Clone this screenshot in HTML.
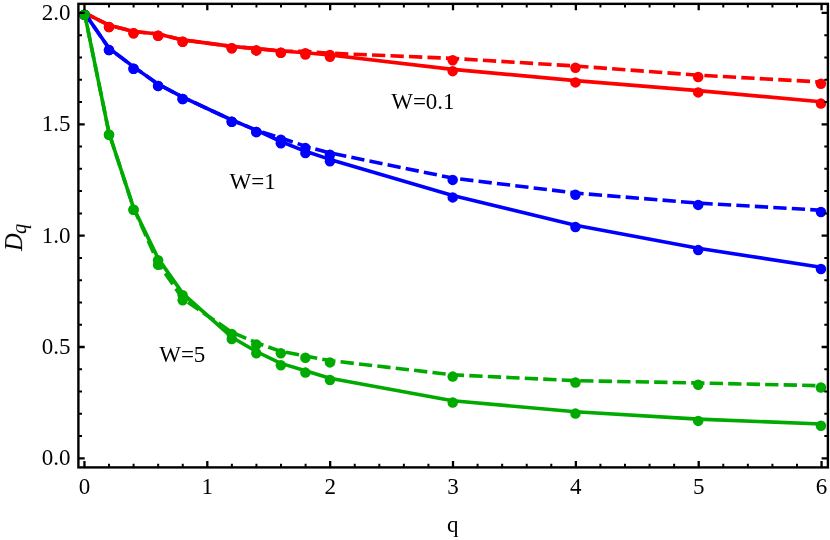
<!DOCTYPE html>
<html><head><meta charset="utf-8"><title>Dq vs q</title>
<style>
html,body{margin:0;padding:0;background:#fff;}
body{width:830px;height:540px;overflow:hidden;font-family:"Liberation Serif",serif;}
svg{display:block;}
</style></head>
<body>
<svg width="830" height="540" viewBox="0 0 830 540">
<rect width="830" height="540" fill="#fff"/>
<g id="curves">
<polyline points="84.45,12.90 109.00,25.20 133.55,31.50 158.10,34.00 182.65,39.90 231.75,46.40 256.30,48.60 280.85,51.00 305.40,52.80 329.95,55.00 452.70,69.35 575.45,80.60 698.20,90.60 820.95,101.80" fill="none" stroke="#ff0000" stroke-width="3.6" stroke-linejoin="round"/>
<circle cx="84.45" cy="14.70" r="5.25" fill="#ff0000"/>
<circle cx="109.00" cy="27.00" r="5.25" fill="#ff0000"/>
<circle cx="133.55" cy="33.30" r="5.25" fill="#ff0000"/>
<circle cx="158.10" cy="35.80" r="5.25" fill="#ff0000"/>
<circle cx="182.65" cy="41.70" r="5.25" fill="#ff0000"/>
<circle cx="231.75" cy="48.20" r="5.25" fill="#ff0000"/>
<circle cx="256.30" cy="50.40" r="5.25" fill="#ff0000"/>
<circle cx="280.85" cy="52.80" r="5.25" fill="#ff0000"/>
<circle cx="305.40" cy="54.60" r="5.25" fill="#ff0000"/>
<circle cx="329.95" cy="56.80" r="5.25" fill="#ff0000"/>
<circle cx="452.70" cy="71.15" r="5.25" fill="#ff0000"/>
<circle cx="575.45" cy="82.40" r="5.25" fill="#ff0000"/>
<circle cx="698.20" cy="92.40" r="5.25" fill="#ff0000"/>
<circle cx="820.95" cy="103.60" r="5.25" fill="#ff0000"/>

<polyline points="84.45,12.90 109.00,25.20 133.55,31.50 158.10,34.00 182.65,39.90 231.75,46.40 256.30,48.60 280.85,51.00 305.40,51.40 329.95,53.20 452.70,58.40 575.45,66.00 698.20,75.20 820.95,82.00" fill="none" stroke="#ff0000" stroke-width="3.6" stroke-linejoin="round" stroke-dasharray="13.3 5.2" stroke-dashoffset="3.15"/>
<circle cx="84.45" cy="14.70" r="5.25" fill="#ff0000"/>
<circle cx="109.00" cy="27.00" r="5.25" fill="#ff0000"/>
<circle cx="133.55" cy="33.30" r="5.25" fill="#ff0000"/>
<circle cx="158.10" cy="35.80" r="5.25" fill="#ff0000"/>
<circle cx="182.65" cy="41.70" r="5.25" fill="#ff0000"/>
<circle cx="231.75" cy="48.20" r="5.25" fill="#ff0000"/>
<circle cx="256.30" cy="50.40" r="5.25" fill="#ff0000"/>
<circle cx="280.85" cy="52.80" r="5.25" fill="#ff0000"/>
<circle cx="305.40" cy="53.20" r="5.25" fill="#ff0000"/>
<circle cx="329.95" cy="55.00" r="5.25" fill="#ff0000"/>
<circle cx="452.70" cy="60.20" r="5.25" fill="#ff0000"/>
<circle cx="575.45" cy="67.80" r="5.25" fill="#ff0000"/>
<circle cx="698.20" cy="77.00" r="5.25" fill="#ff0000"/>
<circle cx="820.95" cy="83.80" r="5.25" fill="#ff0000"/>

<polyline points="84.45,12.90 109.00,48.30 133.55,66.90 158.10,84.10 182.65,97.15 231.75,120.00 256.30,130.20 280.85,141.50 305.40,151.30 329.95,159.40 452.70,195.60 575.45,225.20 698.20,248.30 820.95,267.20" fill="none" stroke="#0000ff" stroke-width="3.6" stroke-linejoin="round"/>
<circle cx="84.45" cy="14.70" r="5.25" fill="#0000ff"/>
<circle cx="109.00" cy="50.10" r="5.25" fill="#0000ff"/>
<circle cx="133.55" cy="68.70" r="5.25" fill="#0000ff"/>
<circle cx="158.10" cy="85.90" r="5.25" fill="#0000ff"/>
<circle cx="182.65" cy="98.95" r="5.25" fill="#0000ff"/>
<circle cx="231.75" cy="121.80" r="5.25" fill="#0000ff"/>
<circle cx="256.30" cy="132.00" r="5.25" fill="#0000ff"/>
<circle cx="280.85" cy="143.30" r="5.25" fill="#0000ff"/>
<circle cx="305.40" cy="153.10" r="5.25" fill="#0000ff"/>
<circle cx="329.95" cy="161.20" r="5.25" fill="#0000ff"/>
<circle cx="452.70" cy="197.40" r="5.25" fill="#0000ff"/>
<circle cx="575.45" cy="227.00" r="5.25" fill="#0000ff"/>
<circle cx="698.20" cy="250.10" r="5.25" fill="#0000ff"/>
<circle cx="820.95" cy="269.00" r="5.25" fill="#0000ff"/>

<polyline points="84.45,12.90 109.00,48.30 133.55,66.90 158.10,84.10 182.65,97.15 231.75,120.00 256.30,130.20 280.85,137.90 305.40,146.30 329.95,152.90 452.70,178.10 575.45,193.00 698.20,203.10 820.95,210.20" fill="none" stroke="#0000ff" stroke-width="3.6" stroke-linejoin="round" stroke-dasharray="13.3 5.2" stroke-dashoffset="3.15"/>
<circle cx="84.45" cy="14.70" r="5.25" fill="#0000ff"/>
<circle cx="109.00" cy="50.10" r="5.25" fill="#0000ff"/>
<circle cx="133.55" cy="68.70" r="5.25" fill="#0000ff"/>
<circle cx="158.10" cy="85.90" r="5.25" fill="#0000ff"/>
<circle cx="182.65" cy="98.95" r="5.25" fill="#0000ff"/>
<circle cx="231.75" cy="121.80" r="5.25" fill="#0000ff"/>
<circle cx="256.30" cy="132.00" r="5.25" fill="#0000ff"/>
<circle cx="280.85" cy="139.70" r="5.25" fill="#0000ff"/>
<circle cx="305.40" cy="148.10" r="5.25" fill="#0000ff"/>
<circle cx="329.95" cy="154.70" r="5.25" fill="#0000ff"/>
<circle cx="452.70" cy="179.90" r="5.25" fill="#0000ff"/>
<circle cx="575.45" cy="194.80" r="5.25" fill="#0000ff"/>
<circle cx="698.20" cy="204.90" r="5.25" fill="#0000ff"/>
<circle cx="820.95" cy="212.00" r="5.25" fill="#0000ff"/>

<polyline points="84.45,12.90 109.00,133.00 133.55,207.90 158.10,258.35 182.65,293.40 231.75,337.20 256.30,351.50 280.85,363.40 305.40,370.80 329.95,378.20 452.70,400.70 575.45,411.80 698.20,419.10 820.95,424.00" fill="none" stroke="#00aa00" stroke-width="3.6" stroke-linejoin="round"/>
<circle cx="84.45" cy="14.70" r="5.25" fill="#00aa00"/>
<circle cx="109.00" cy="134.80" r="5.25" fill="#00aa00"/>
<circle cx="133.55" cy="209.70" r="5.25" fill="#00aa00"/>
<circle cx="158.10" cy="260.15" r="5.25" fill="#00aa00"/>
<circle cx="182.65" cy="295.20" r="5.25" fill="#00aa00"/>
<circle cx="231.75" cy="339.00" r="5.25" fill="#00aa00"/>
<circle cx="256.30" cy="353.30" r="5.25" fill="#00aa00"/>
<circle cx="280.85" cy="365.20" r="5.25" fill="#00aa00"/>
<circle cx="305.40" cy="372.60" r="5.25" fill="#00aa00"/>
<circle cx="329.95" cy="380.00" r="5.25" fill="#00aa00"/>
<circle cx="452.70" cy="402.50" r="5.25" fill="#00aa00"/>
<circle cx="575.45" cy="413.60" r="5.25" fill="#00aa00"/>
<circle cx="698.20" cy="420.90" r="5.25" fill="#00aa00"/>
<circle cx="820.95" cy="425.80" r="5.25" fill="#00aa00"/>

<polyline points="84.45,12.90 109.00,133.00 133.55,207.90 158.10,262.95 182.65,298.55 231.75,332.20 256.30,342.70 280.85,351.40 305.40,356.00 329.95,360.60 452.70,374.80 575.45,380.65 698.20,383.00 820.95,385.70" fill="none" stroke="#00aa00" stroke-width="3.6" stroke-linejoin="round" stroke-dasharray="13.3 5.2" stroke-dashoffset="3.15"/>
<circle cx="84.45" cy="14.70" r="5.25" fill="#00aa00"/>
<circle cx="109.00" cy="134.80" r="5.25" fill="#00aa00"/>
<circle cx="133.55" cy="209.70" r="5.25" fill="#00aa00"/>
<circle cx="158.10" cy="264.75" r="5.25" fill="#00aa00"/>
<circle cx="182.65" cy="300.35" r="5.25" fill="#00aa00"/>
<circle cx="231.75" cy="334.00" r="5.25" fill="#00aa00"/>
<circle cx="256.30" cy="344.50" r="5.25" fill="#00aa00"/>
<circle cx="280.85" cy="353.20" r="5.25" fill="#00aa00"/>
<circle cx="305.40" cy="357.80" r="5.25" fill="#00aa00"/>
<circle cx="329.95" cy="362.40" r="5.25" fill="#00aa00"/>
<circle cx="452.70" cy="376.60" r="5.25" fill="#00aa00"/>
<circle cx="575.45" cy="382.45" r="5.25" fill="#00aa00"/>
<circle cx="698.20" cy="384.80" r="5.25" fill="#00aa00"/>
<circle cx="820.95" cy="387.50" r="5.25" fill="#00aa00"/>

</g>
<g id="frame" stroke="#000" fill="none">
<rect x="78.4" y="3.85" width="749.5" height="463.54999999999995" stroke-width="2.4"/>
<path d="M84.46 467.4V461.09999999999997M84.46 3.85V10.15M207.31 467.4V461.09999999999997M207.31 3.85V10.15M330.16 467.4V461.09999999999997M330.16 3.85V10.15M453.01 467.4V461.09999999999997M453.01 3.85V10.15M575.86 467.4V461.09999999999997M575.86 3.85V10.15M698.71 467.4V461.09999999999997M698.71 3.85V10.15M821.56 467.4V461.09999999999997M821.56 3.85V10.15M78.4 458.35H84.7M827.9 458.35H821.6M78.4 347.00H84.7M827.9 347.00H821.6M78.4 235.65H84.7M827.9 235.65H821.6M78.4 124.30H84.7M827.9 124.30H821.6M78.4 12.95H84.7M827.9 12.95H821.6" stroke-width="2.3"/>
<path d="M109.03 467.4V463.79999999999995M109.03 3.85V7.45M133.60 467.4V463.79999999999995M133.60 3.85V7.45M158.17 467.4V463.79999999999995M158.17 3.85V7.45M182.74 467.4V463.79999999999995M182.74 3.85V7.45M231.88 467.4V463.79999999999995M231.88 3.85V7.45M256.45 467.4V463.79999999999995M256.45 3.85V7.45M281.02 467.4V463.79999999999995M281.02 3.85V7.45M305.59 467.4V463.79999999999995M305.59 3.85V7.45M354.73 467.4V463.79999999999995M354.73 3.85V7.45M379.30 467.4V463.79999999999995M379.30 3.85V7.45M403.87 467.4V463.79999999999995M403.87 3.85V7.45M428.44 467.4V463.79999999999995M428.44 3.85V7.45M477.58 467.4V463.79999999999995M477.58 3.85V7.45M502.15 467.4V463.79999999999995M502.15 3.85V7.45M526.72 467.4V463.79999999999995M526.72 3.85V7.45M551.29 467.4V463.79999999999995M551.29 3.85V7.45M600.43 467.4V463.79999999999995M600.43 3.85V7.45M625.00 467.4V463.79999999999995M625.00 3.85V7.45M649.57 467.4V463.79999999999995M649.57 3.85V7.45M674.14 467.4V463.79999999999995M674.14 3.85V7.45M723.28 467.4V463.79999999999995M723.28 3.85V7.45M747.85 467.4V463.79999999999995M747.85 3.85V7.45M772.42 467.4V463.79999999999995M772.42 3.85V7.45M796.99 467.4V463.79999999999995M796.99 3.85V7.45M78.4 436.08H82.0M827.9 436.08H824.3M78.4 413.81H82.0M827.9 413.81H824.3M78.4 391.54H82.0M827.9 391.54H824.3M78.4 369.27H82.0M827.9 369.27H824.3M78.4 324.73H82.0M827.9 324.73H824.3M78.4 302.46H82.0M827.9 302.46H824.3M78.4 280.19H82.0M827.9 280.19H824.3M78.4 257.92H82.0M827.9 257.92H824.3M78.4 213.38H82.0M827.9 213.38H824.3M78.4 191.11H82.0M827.9 191.11H824.3M78.4 168.84H82.0M827.9 168.84H824.3M78.4 146.57H82.0M827.9 146.57H824.3M78.4 102.03H82.0M827.9 102.03H824.3M78.4 79.76H82.0M827.9 79.76H824.3M78.4 57.49H82.0M827.9 57.49H824.3M78.4 35.22H82.0M827.9 35.22H824.3" stroke-width="2.0"/>
</g>
<g id="labels" opacity="0.999" font-family="'Liberation Serif', serif" font-size="23" fill="#000">
<text x="84.46" y="494.3" text-anchor="middle">0</text>
<text x="207.31" y="494.3" text-anchor="middle">1</text>
<text x="330.16" y="494.3" text-anchor="middle">2</text>
<text x="453.01" y="494.3" text-anchor="middle">3</text>
<text x="575.86" y="494.3" text-anchor="middle">4</text>
<text x="698.71" y="494.3" text-anchor="middle">5</text>
<text x="821.56" y="494.3" text-anchor="middle">6</text>
<text x="70.4" y="465.25" text-anchor="end">0.0</text>
<text x="70.4" y="353.90" text-anchor="end">0.5</text>
<text x="70.4" y="242.55" text-anchor="end">1.0</text>
<text x="70.4" y="131.20" text-anchor="end">1.5</text>
<text x="70.4" y="19.85" text-anchor="end">2.0</text>
<text x="452.8" y="531.8" text-anchor="middle">q</text>
<text x="391.2" y="109.1">W=0.1</text>
<text x="229.6" y="189.1">W=1</text>
<text x="159.2" y="361.6">W=5</text>
<text transform="translate(22.1,251) rotate(-90)" font-style="italic" font-size="24.5">D<tspan font-size="20.5" dx="-0.6" dy="3.6">q</tspan></text>
</g>
</svg>
</body></html>
